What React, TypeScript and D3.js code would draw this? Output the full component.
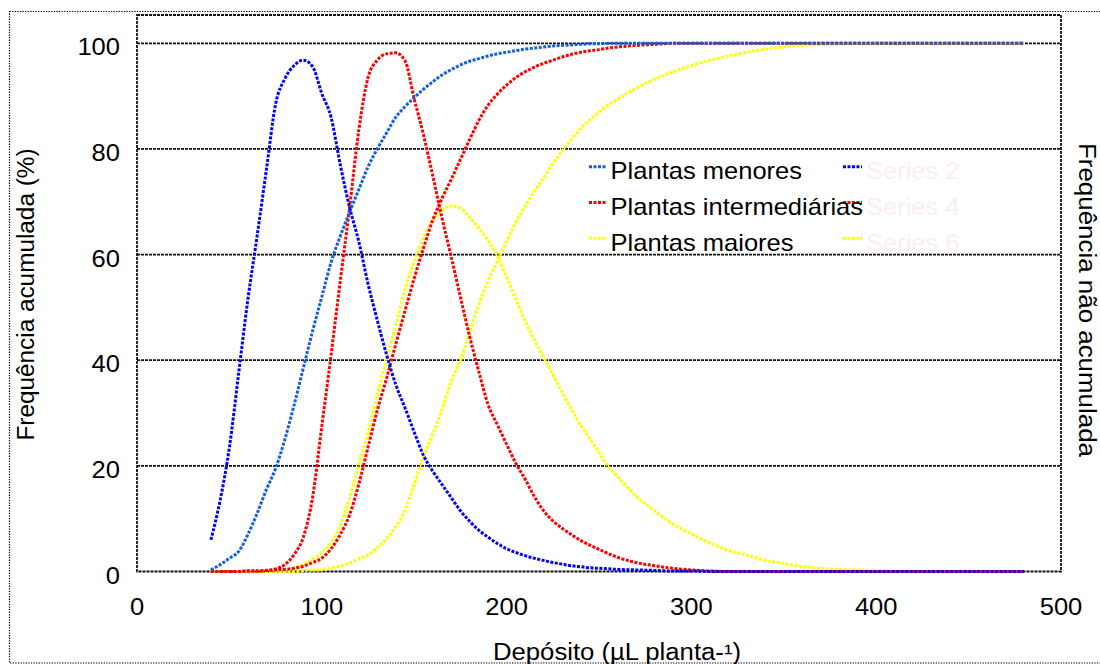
import React from 'react';
import * as d3 from 'd3';

// Depósito (µL planta-1) – x values of every series
const deposito = [40,45,50,55,60,65,70,75,80,85,90,95,100,105,110,115,120,125,130,135,140,145,150,155,160,165,170,175,180,185,190,195,200,205,210,215,220,225,230,235,240,245,250,255,260,270,280,290,300,310,320,330,340,350,360,370,380,390,400,410,420,430,440,450,460,470,480];

// Frequência acumulada (%) – left axis
const cumMenores = [0.3,1.3,2.5,3.8,7,11,15.5,19.5,25,31.5,38.5,45.5,52,58.5,63.5,68,72.3,76.6,80,83,86,88,89.7,91.3,92.7,94,95,95.9,96.6,97.1,97.6,98,98.3,98.6,98.9,99.1,99.3,99.5,99.6,99.7,99.8,99.9,99.9,100,100,100,100,100,100,100,100,100,100,100,100,100,100,100,100,100,100,100,100,100,100,100,100];
const cumInterm = [0,0,0,0,0.1,0.1,0.2,0.3,0.4,0.6,1,1.7,2.5,4.3,7,10.7,16.5,23.5,30.5,36.5,43,49.3,55.5,61.2,66.5,70.6,74.2,78,81.8,85.4,88.3,90.4,92.1,93.5,94.6,95.5,96.2,96.8,97.4,97.9,98.3,98.6,98.8,99.1,99.3,99.6,99.8,100,100,100,100,100,100,100,100,100,100,100,100,100,100,100,100,100,100,100,100];
const cumMaiores = [0,0,0,0,0,0,0,0,0,0,0.2,0.3,0.4,0.7,1,1.6,2.4,3.1,4.5,6.2,8.5,11.6,16.5,21.8,26,30.6,36,40,45.3,50.6,55,58.8,62.5,66.2,69.2,72,74.5,77.2,79.6,81.8,83.8,85.5,87,88.3,89.4,91.5,93.2,94.6,95.8,96.8,97.6,98.3,98.9,99.3,99.6,99.8,99.9,100,100,100,100,100,100,100,100,100,100];

// Frequência não acumulada – right axis (drawn in left-axis units)
const bellMenores = [6,13.5,23.5,37.5,51.5,63.5,76,88.5,93.3,95.8,96.8,95.6,90.5,86,77,69,62.5,54.5,47.6,41.1,35.4,31,26.4,22,19,16.5,14,11.5,9.5,7.8,6.5,5.3,4.3,3.6,3,2.5,2.1,1.7,1.4,1.1,0.9,0.7,0.6,0.5,0.4,0.3,0.2,0.1,0.1,0,0,0,0,0,0,0,0,0,0,0,0,0,0,0,0,0,0];
const bellInterm = [0,0,0,0,0.1,0.1,0.2,0.5,1.3,3.2,6.5,14,27.5,41,55,68.8,83.5,93.5,96.8,98,98.2,96.7,89.5,82.7,75,67,59.6,52,44.5,37.8,31.6,27.8,24.1,20.5,17.5,14.2,11.5,9.6,8.2,7,5.9,5,4.2,3.4,2.7,1.7,1.1,0.6,0.3,0.1,0,0,0,0,0,0,0,0,0,0,0,0,0,0,0,0,0];
const bellMaiores = [0,0,0,0,0,0,0,0.1,0.2,0.7,1.4,2.3,3.6,5.4,8.8,13.8,20.1,26.3,33.5,40,46.6,53.4,58.7,63.2,66.5,68.4,69.2,68.8,67,65,62.6,59.8,55.7,51.6,47.4,43.9,40.6,37.3,34,30.7,27.8,25.2,22.5,19.9,18,14.3,11.5,9,7.1,5.4,4,3.1,2.1,1.5,0.9,0.6,0.4,0.3,0.2,0.1,0.1,0,0,0,0,0,0];

const legendLeft = ['Plantas menores', 'Plantas intermediárias', 'Plantas maiores'];
const legendRight = ['Series 2', 'Series 4', 'Series 6'];
const xTicks = [0, 100, 200, 300, 400, 500];
const yTicks = [0, 20, 40, 60, 80, 100];
const gridValues = [20, 40, 60, 80, 100];

const FONT = '"Liberation Sans", Arial, Helvetica, sans-serif';
const SX = 1.11;
const FS = 23;

const colCumMen = '#1560d8';
const colBellMen = '#0000ff';
const colRed = '#ff0000';
const colYel = '#ffff00';

function T({ x, y, anchor = 'start', rot = 0, children, fill = '#000', len }: any) {
  return (
    <g transform={`translate(${x},${y}) rotate(${rot}) scale(${len ? 1 : SX},1)`}>
      <text
        x={0}
        y={0}
        textAnchor={anchor}
        fontFamily={FONT}
        fontSize={FS}
        fill={fill}
        {...(len ? { textLength: len, lengthAdjust: 'spacingAndGlyphs' } : {})}
      >
        {children}
      </text>
    </g>
  );
}

export default function App() {
  const x = d3.scaleLinear().domain([0, 500]).range([137, 1061]);
  const y = d3.scaleLinear().domain([0, 100]).range([571.5, 43.3]);
  const frameTop = 15;

  const mk = (vals: number[]) =>
    d3
      .line<number>()
      .x((_, i) => x(deposito[i]))
      .y((d) => y(d))
      .curve(d3.curveMonotoneX)(vals) as string;

  const series = [
    { vals: cumMaiores, color: colYel },
    { vals: bellMaiores, color: colYel },
    { vals: cumInterm, color: colRed },
    { vals: bellInterm, color: colRed },
    { vals: cumMenores, color: colCumMen },
    { vals: bellMenores, color: colBellMen },
  ];

  const dash = '3 1.5';
  const sw = 3;

  const legColorsL = [colCumMen, colRed, colYel];
  const legColorsR = [colBellMen, colRed, colYel];
  const legBase = [179.3, 215, 250.7];

  return (
    <svg
      width={1100}
      height={664}
      style={{ position: 'absolute', left: 0, top: 0, background: '#fff' }}
    >
      <rect x={0} y={0} width={1100} height={664} fill="#fff" />
      {/* outer dotted border */}
      <rect
        x={9.5}
        y={11.5}
        width={1100}
        height={651.5}
        fill="none"
        stroke="#000"
        strokeWidth={1.2}
        strokeDasharray="1.3 1.3"
      />
      {/* gridlines */}
      {gridValues.map((v) => (
        <line
          key={v}
          x1={x(0)}
          x2={x(500)}
          y1={y(v)}
          y2={y(v)}
          stroke="#111"
          strokeWidth={1.8}
          strokeDasharray="3 1"
        />
      ))}
      {/* plot frame */}
      <rect
        x={x(0)}
        y={frameTop}
        width={x(500) - x(0)}
        height={y(0) - frameTop}
        fill="none"
        stroke="#111"
        strokeWidth={1.8}
        strokeDasharray="3 1"
      />
      {/* series */}
      {series.map((s, i) => (
        <path
          key={i}
          d={mk(s.vals)}
          fill="none"
          stroke={s.color}
          strokeWidth={sw}
          strokeDasharray={dash}
        />
      ))}
      {/* y tick labels */}
      {yTicks.map((v) => (
        <T key={v} x={120} y={y(v) + 12} anchor="end">
          {v}
        </T>
      ))}
      {/* x tick labels */}
      {xTicks.map((v) => (
        <T key={v} x={x(v)} y={615} anchor="middle">
          {v}
        </T>
      ))}
      {/* axis titles */}
      <T x={617} y={660} anchor="middle" len={248}>
        Depósito (µL planta-¹)
      </T>
      <T x={34} y={294.5} anchor="middle" rot={-90} len={292}>
        Frequência acumulada (%)
      </T>
      <T x={1078.5} y={300} anchor="middle" rot={90} len={314}>
        Frequência não acumulada
      </T>
      {/* legend */}
      {legendLeft.map((name, i) => (
        <g key={name}>
          <line
            x1={589}
            x2={607}
            y1={legBase[i] - 12.5}
            y2={legBase[i] - 12.5}
            stroke={legColorsL[i]}
            strokeWidth={sw}
            strokeDasharray={dash}
          />
          <line
            x1={843}
            x2={862}
            y1={legBase[i] - 12.5}
            y2={legBase[i] - 12.5}
            stroke={legColorsR[i]}
            strokeWidth={sw}
            strokeDasharray={dash}
          />
        </g>
      ))}
      {legendLeft.map((name, i) => (
        <T key={name} x={610.6} y={legBase[i]}>
          {name}
        </T>
      ))}
      {legendRight.map((name, i) => (
        <T key={name} x={866} y={legBase[i]} fill="#fdeeee">
          {name}
        </T>
      ))}
    </svg>
  );
}
